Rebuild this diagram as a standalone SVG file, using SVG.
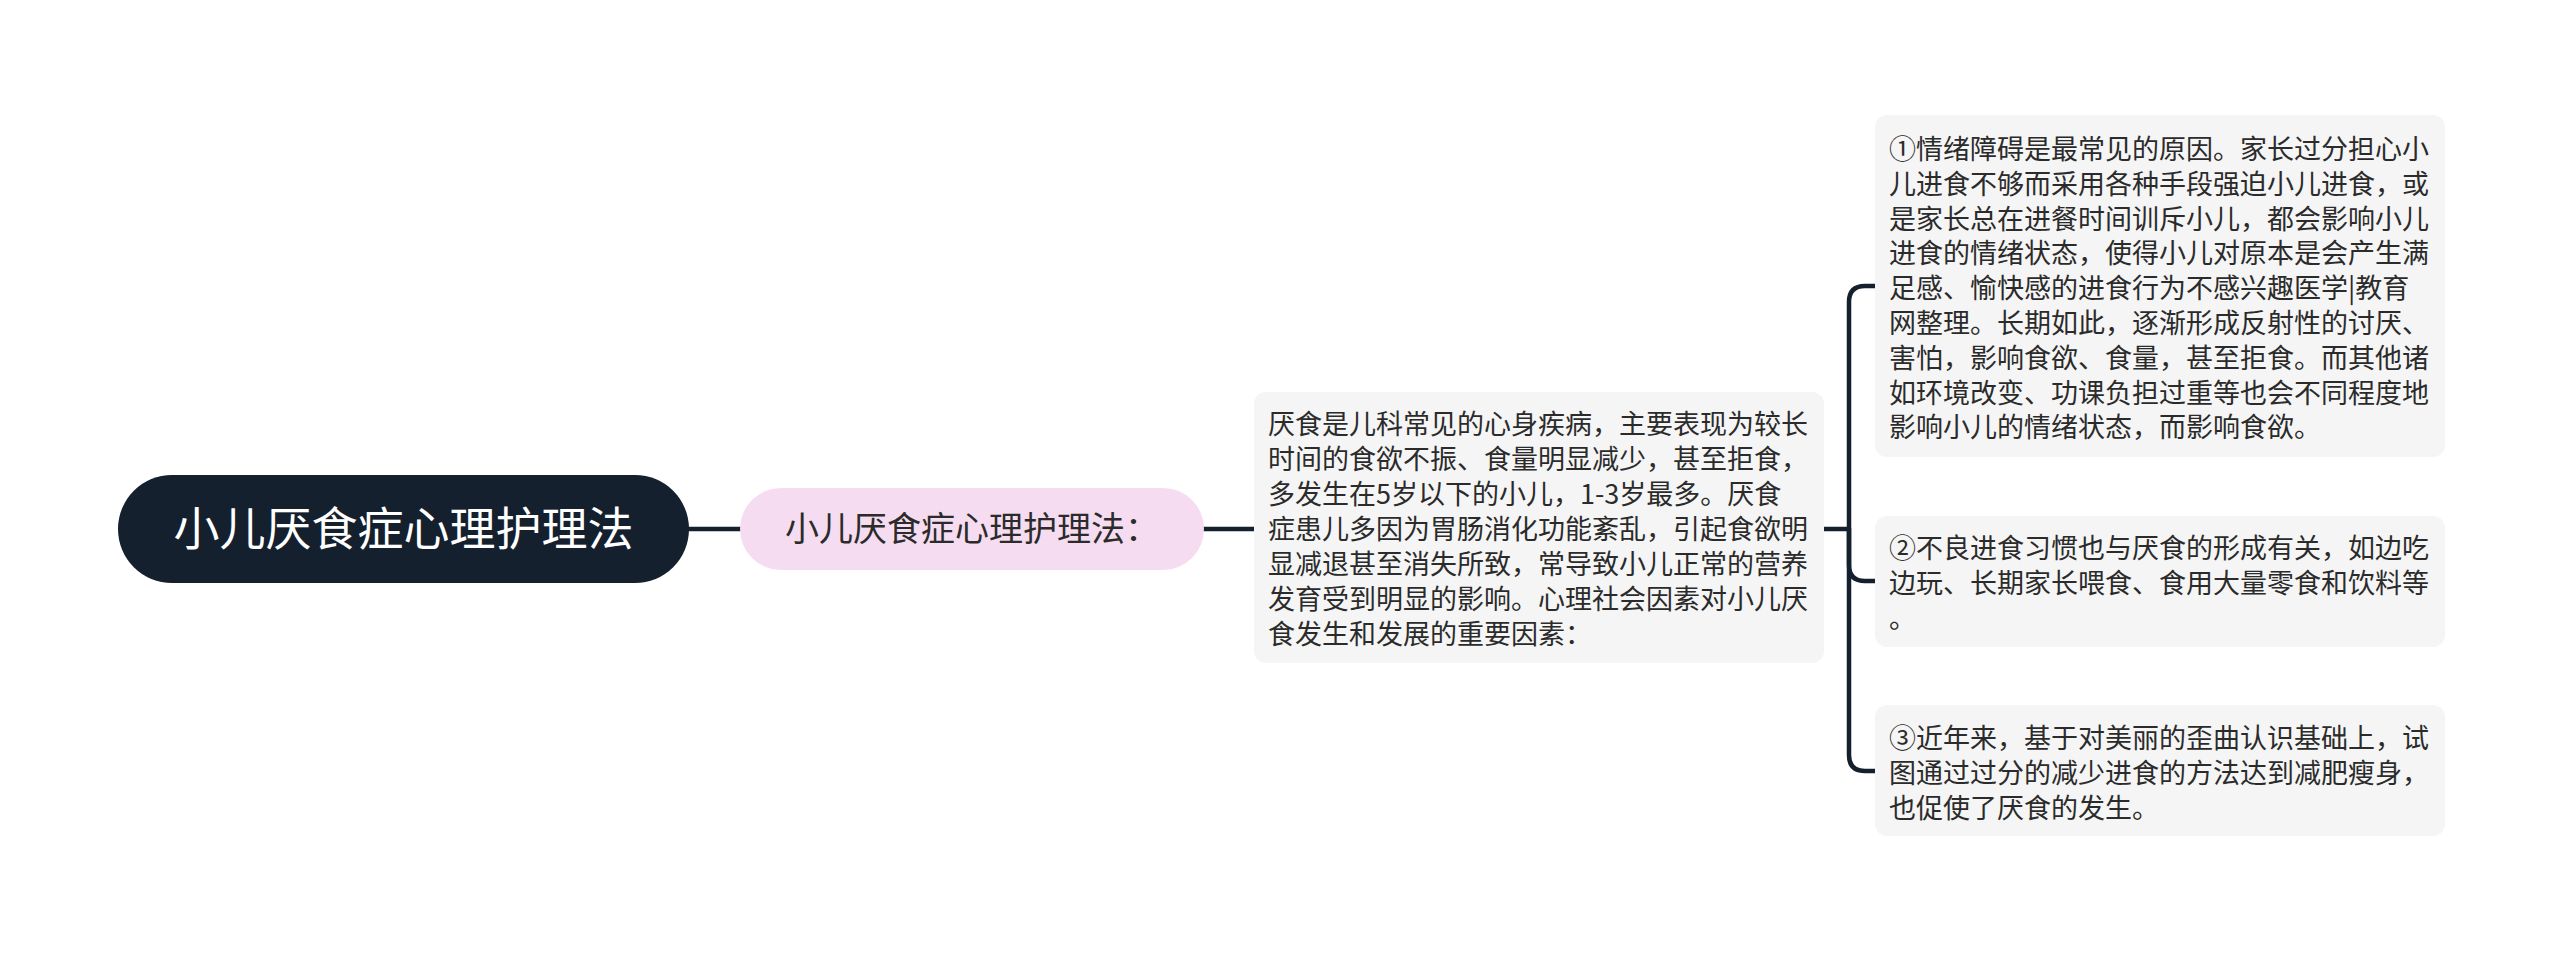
<svg xmlns="http://www.w3.org/2000/svg" width="2560" height="953" viewBox="0 0 2560 953">
<style>
text{font-family:"Noto Sans CJK SC","Noto Sans",sans-serif;}
.edge{fill:none;stroke:#15202f;stroke-width:4.5;stroke-linecap:round;stroke-linejoin:round;}
.box{fill:#f5f5f5;}
.bt{font-size:27px;fill:#2b2b2b;}
</style>
<rect width="2560" height="953" fill="#ffffff"/>
<g id="connectors">
<path class="edge" d="M689,529 H740"/>
<path class="edge" d="M1204,529 H1254"/>
<path class="edge" d="M1824,529 H1849"/>
<path class="edge" d="M1875,286 H1865 Q1849,286 1849,302 V755 Q1849,771 1865,771 H1875"/>
<path class="edge" d="M1849,529 V565 Q1849,581 1865,581 H1875"/>
</g>
<g id="root">
<rect x="118" y="475" width="571" height="108" rx="54" fill="#15202f"/>
<text x="403.5" y="545" font-size="46" fill="#ffffff" text-anchor="middle">小儿厌食症心理护理法</text>
</g>
<g id="sub">
<rect x="740" y="488" width="464" height="82" rx="41" fill="#f6dcf0"/>
<text x="972" y="541" font-size="34" fill="#2b2b2b" text-anchor="middle">小儿厌食症心理护理法：</text>
</g>
<g id="desc">
<rect class="box" x="1254" y="392" width="570" height="271" rx="12"/>
<text class="bt">
<tspan x="1268" y="434">厌食是儿科常见的心身疾病，主要表现为较长</tspan>
<tspan x="1268" y="469">时间的食欲不振、食量明显减少，甚至拒食，</tspan>
<tspan x="1268" y="504">多发生在5岁以下的小儿，1-3岁最多。厌食</tspan>
<tspan x="1268" y="539">症患儿多因为胃肠消化功能紊乱，引起食欲明</tspan>
<tspan x="1268" y="574">显减退甚至消失所致，常导致小儿正常的营养</tspan>
<tspan x="1268" y="609">发育受到明显的影响。心理社会因素对小儿厌</tspan>
<tspan x="1268" y="644">食发生和发展的重要因素：</tspan>
</text>
</g>
<g id="item1">
<rect class="box" x="1875" y="115" width="570" height="342" rx="12"/>
<text class="bt">
<tspan x="1889" y="159">①情绪障碍是最常见的原因。家长过分担心小</tspan>
<tspan x="1889" y="194">儿进食不够而采用各种手段强迫小儿进食，或</tspan>
<tspan x="1889" y="229">是家长总在进餐时间训斥小儿，都会影响小儿</tspan>
<tspan x="1889" y="263">进食的情绪状态，使得小儿对原本是会产生满</tspan>
<tspan x="1889" y="298">足感、愉快感的进食行为不感兴趣医学|教育</tspan>
<tspan x="1889" y="333">网整理。长期如此，逐渐形成反射性的讨厌、</tspan>
<tspan x="1889" y="368">害怕，影响食欲、食量，甚至拒食。而其他诸</tspan>
<tspan x="1889" y="403">如环境改变、功课负担过重等也会不同程度地</tspan>
<tspan x="1889" y="437">影响小儿的情绪状态，而影响食欲。</tspan>
</text>
</g>
<g id="item2">
<rect class="box" x="1875" y="516" width="570" height="131" rx="12"/>
<text class="bt">
<tspan x="1889" y="558">②不良进食习惯也与厌食的形成有关，如边吃</tspan>
<tspan x="1889" y="593">边玩、长期家长喂食、食用大量零食和饮料等</tspan>
<tspan x="1889" y="628">。</tspan>
</text>
</g>
<g id="item3">
<rect class="box" x="1875" y="705" width="570" height="131" rx="12"/>
<text class="bt">
<tspan x="1889" y="748">③近年来，基于对美丽的歪曲认识基础上，试</tspan>
<tspan x="1889" y="783">图通过过分的减少进食的方法达到减肥瘦身，</tspan>
<tspan x="1889" y="818">也促使了厌食的发生。</tspan>
</text>
</g>
</svg>
